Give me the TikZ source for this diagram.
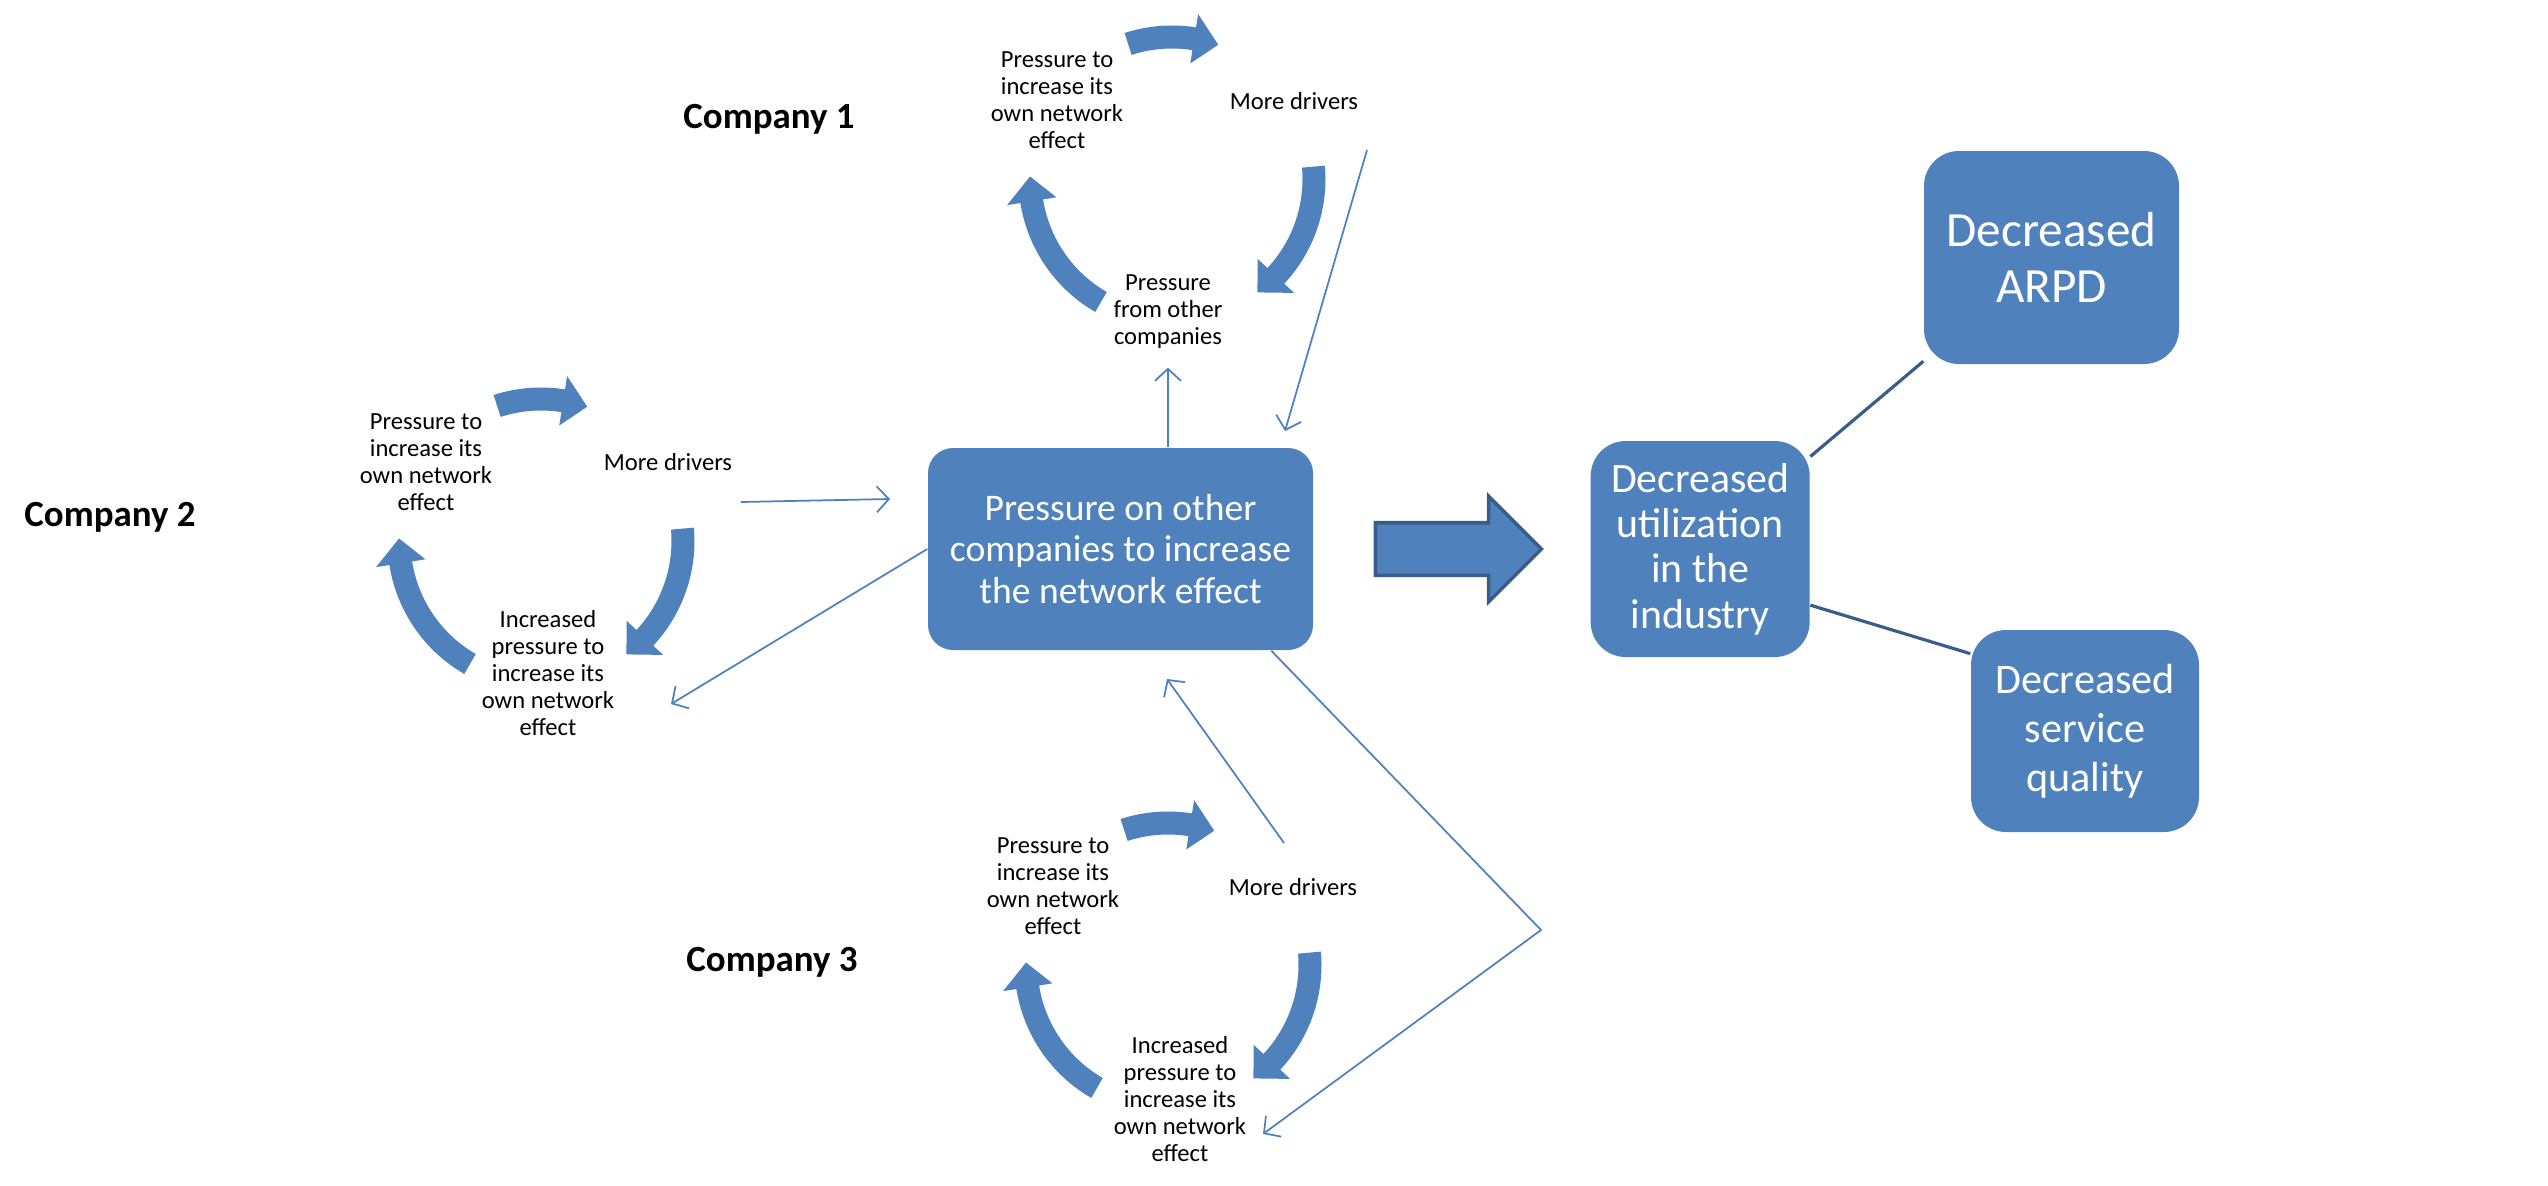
\documentclass[tikz,border=0pt]{standalone}
\usepackage{fontspec}
\setmainfont{Carlito}
\usetikzlibrary{positioning,shapes.arrows,arrows.meta}
\definecolor{boxblue}{HTML}{4F81BD}
\definecolor{lineblue}{HTML}{385D8A}

% thick cycle arrow round #1, clockwise from angle #2 to angle #3
\newcommand{\cycarrow}[3]{%
  \fill[cyc] ([shift={(#2:1.535)}]#1) arc[start angle=#2, end angle=#3+10, radius=1.535]
    -- ([shift={(#3+10:1.67)}]#1) -- ([shift={(#3:1.42)}]#1)
    -- ([shift={(#3+10:1.17)}]#1) -- ([shift={(#3+10:1.305)}]#1)
    arc[start angle=#3+10, end angle=#2, radius=1.305] -- cycle;}

\begin{document}
\begin{tikzpicture}[cyc/.style = {fill=boxblue},
    txt/.style = {align=center, inner sep=0pt, font=\fontsize{7}{7.7}\selectfont},
    comp/.style = {font=\fontsize{10.5}{12}\selectfont\bfseries},
    box/.style = {fill=boxblue, text=white, align=center, inner sep=0pt},
    link/.style = {draw=boxblue, line width=0.5pt, -{Straight Barb[length=1.2mm,width=2.6mm]}},
    tie/.style = {draw=lineblue, line width=0.9pt},
    bigarrow/.style = {single arrow, single arrow head extend=0.265cm, single arrow tip angle=90,
      minimum height=1.66cm, inner sep=0pt, fill=boxblue, draw=lineblue, line width=1pt}]
\useasboundingbox (0,0) rectangle (25.48,11.85);

% cycle centres
\coordinate (c1) at (11.72,10.06);
\coordinate (c2) at (5.41,6.44);
\coordinate (c3) at (11.68,2.20);

% company 1
\node[comp] (comp1) at (7.69,10.66) {Company 1};
\node[txt, shift={(-1.15,0.79)}] (own1) at (c1) {Pressure to\\increase its\\own network\\effect};
\node[txt, shift={(1.22,0.78)}] (drv1) at (c1) {More drivers};
\node[txt, shift={(-0.04,-1.33)}] (pfoc) at (c1) {Pressure\\from other\\companies};
\cycarrow{c1}{108}{71}
\cycarrow{c1}{5}{-53}
\cycarrow{c1}{240}{179}

% company 2
\node[comp] (comp2) at (1.10,6.68) {Company 2};
\node[txt, shift={(-1.15,0.79)}] (own2) at (c2) {Pressure to\\increase its\\own network\\effect};
\node[txt, shift={(1.27,0.79)}] (drv2) at (c2) {More drivers};
\node[txt, shift={(0.07,-1.32)}] (inc2) at (c2) {Increased\\pressure to\\increase its\\own network\\effect};
\cycarrow{c2}{108}{71}
\cycarrow{c2}{5}{-53}
\cycarrow{c2}{240}{179}

% company 3
\node[comp] (comp3) at (7.72,2.23) {Company 3};
\node[txt, shift={(-1.15,0.79)}] (own3) at (c3) {Pressure to\\increase its\\own network\\effect};
\node[txt, shift={(1.25,0.78)}] (drv3) at (c3) {More drivers};
\node[txt, shift={(0.12,-1.34)}] (inc3) at (c3) {Increased\\pressure to\\increase its\\own network\\effect};
\cycarrow{c3}{108}{71}
\cycarrow{c3}{5}{-53}
\cycarrow{c3}{240}{179}

% main chain
\node[box, minimum width=3.85cm, minimum height=2.02cm, rounded corners=0.25cm,
  font=\fontsize{10.7}{11.75}\selectfont] (press) at (11.205,6.36)
  {Pressure on other\\companies to increase\\the network effect};
\node[bigarrow, right=0.6cm of press] (arr) {\rule{0pt}{0.49cm}};
\node[box, minimum width=2.19cm, minimum height=2.16cm, rounded corners=0.35cm,
  font=\fontsize{11.9}{12.9}\selectfont, right=0.46cm of arr] (util)
  {Decreased\\utilization\\in the\\industry};
\node[box, minimum width=2.55cm, minimum height=2.13cm, rounded corners=0.35cm,
  font=\fontsize{14}{15.7}\selectfont] (arpd) at (20.515,9.275) {Decreased\\ARPD};
\node[box, minimum width=2.28cm, minimum height=2.02cm, rounded corners=0.35cm,
  font=\fontsize{12}{13.9}\selectfont] (serv) at (20.85,4.54) {Decreased\\service\\quality};

\draw[tie] (util.40) -- (arpd.219);
\draw[tie] (util.-27) -- (serv.146);

% free ends of the thin links
\coordinate (c1out) at (13.67,10.35);
\coordinate (c1end) at (12.85,7.54);
\coordinate (c2out) at (7.41,6.83);
\coordinate (c2end) at (8.90,6.86);
\coordinate (c2in) at (6.71,4.81);
\coordinate (c3out) at (12.84,3.42);
\coordinate (c3end) at (11.67,5.06);
\coordinate (bend) at (15.41,2.55);
\coordinate (c3in) at (12.63,0.51);

\draw[link, shorten >=0.18cm] (press.65) -- (press.65 |- pfoc.south);
\draw[link] (c1out) -- (c1end);
\draw[link] (c2out) -- (c2end);
\draw[link] (press.west) -- (c2in);
\draw[link] (c3out) -- (c3end);
\draw[link] (press.-34.4) -- (bend) -- (c3in);

\end{tikzpicture}
\end{document}
